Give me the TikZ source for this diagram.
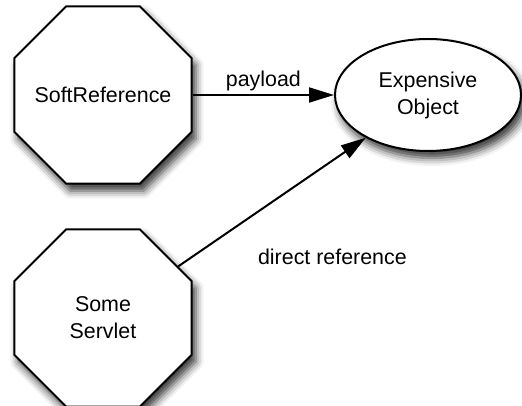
\documentclass[tikz,border=0pt]{standalone}
\usepackage{fontspec}
\setmainfont{Liberation Sans}
\usetikzlibrary{shapes.geometric,arrows.meta,shadows.blur}
\begin{document}
\begin{tikzpicture}[x=0.5pt,y=-0.5pt,
    every node/.style={font=\fontsize{10.7}{13.5}\selectfont},
    shade/.style={blur shadow={shadow xshift=2pt,shadow yshift=-3.5pt,shadow blur radius=4pt,shadow opacity=80}},
    octa/.style={draw,fill=white,line width=1pt,regular polygon,regular polygon sides=8,
        minimum size=96pt,inner sep=0pt,shade,label={[align=center]center:#1}},
    blob/.style={draw,fill=white,line width=1pt,ellipse,minimum width=93pt,
        minimum height=56pt,inner sep=0pt,align=center,shade},
    link/.style={line width=1pt,-{Triangle[length=12.5pt,width=7.5pt]}}]
\useasboundingbox (0,0) rectangle (522,405);
\node[octa=SoftReference] (soft) at (103,95) {};
\node[octa={Some\\Servlet}] (servlet) at (103,318) {};
\node[blob] (obj) at (428,95) {Expensive\\Object};
% references
\draw[link] (soft) -- node[above,yshift=-2pt] {payload} (obj);
\draw[link] (servlet) -- node[pos=0.385,anchor=north west,yshift=-12pt] {direct reference} (obj);
\end{tikzpicture}
\end{document}
